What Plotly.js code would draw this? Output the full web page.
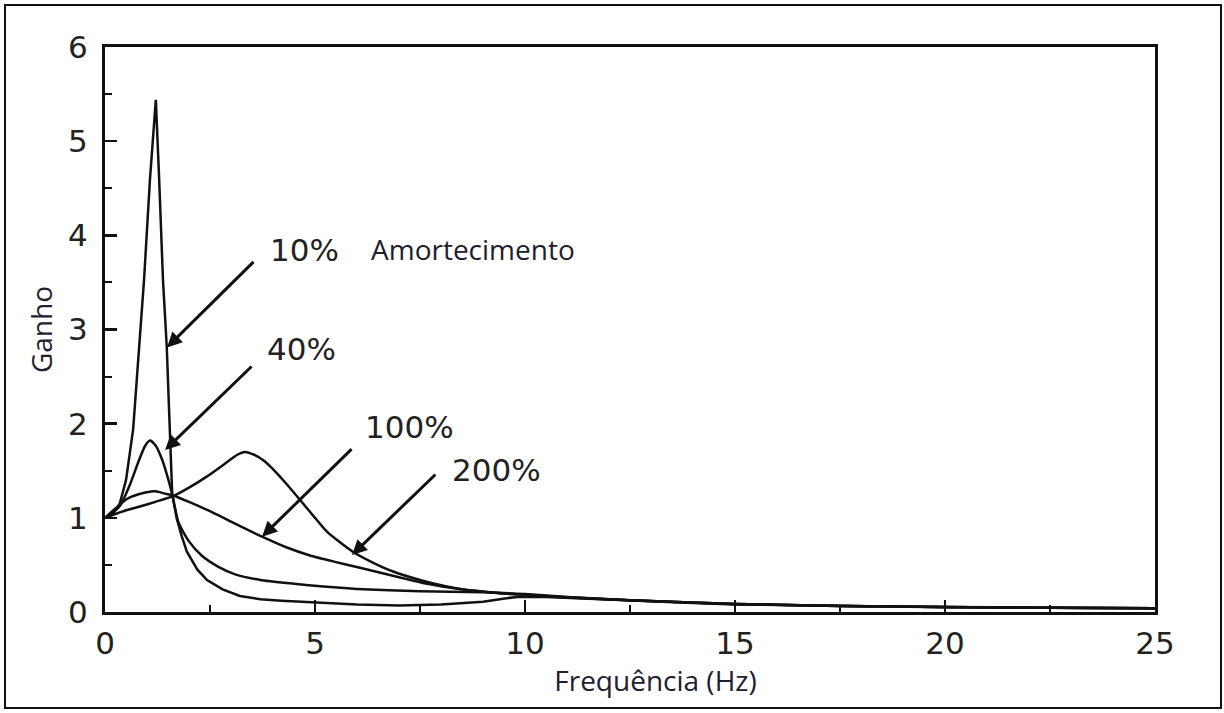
<!DOCTYPE html>
<html>
<head>
<meta charset="utf-8">
<script src="https://cdn.plot.ly/plotly-3.0.1.min.js"></script>
<style>
  html, body { margin: 0; padding: 0; background: #ffffff; }
  #chart { width: 1224px; height: 713px; }
</style>
</head>
<body>
<div id="chart"></div>
<script>
// ---- Data ----
const freq10 = [0, 0.2, 0.35, 0.5, 0.67, 0.8, 0.93, 1.07, 1.21, 1.29, 1.38, 1.47, 1.53, 1.6, 1.71, 1.83, 1.95, 2.2, 2.43, 2.8, 3.21, 3.7, 4.2, 5.0, 6.0, 7.0, 8.0, 9.0, 9.8, 10.5, 11.5, 12.5, 14, 15, 17.5, 20, 22.5, 25];
const gain10 = [1.0, 1.05, 1.15, 1.4, 1.94, 2.75, 3.53, 4.59, 5.44, 4.59, 3.53, 2.82, 2.0, 1.25, 0.99, 0.8, 0.64, 0.45, 0.34, 0.24, 0.17, 0.135, 0.12, 0.1, 0.08, 0.07, 0.08, 0.11, 0.16, 0.16, 0.14, 0.12, 0.095, 0.08, 0.062, 0.05, 0.045, 0.04];

const freq40 = [0, 0.2, 0.36, 0.6, 0.8, 0.95, 1.07, 1.2, 1.35, 1.5, 1.6, 1.75, 2.0, 2.3, 2.7, 3.1, 3.7, 4.5, 5.2, 6.0, 7.5, 9.0, 10, 11, 12.5, 15, 17.5, 20, 22.5, 25];
const gain40 = [1.0, 1.06, 1.13, 1.36, 1.6, 1.76, 1.82, 1.77, 1.63, 1.42, 1.25, 0.95, 0.75, 0.6, 0.48, 0.4, 0.34, 0.3, 0.27, 0.245, 0.22, 0.21, 0.19, 0.16, 0.125, 0.085, 0.065, 0.052, 0.045, 0.04];

const freq100 = [0, 0.25, 0.52, 0.8, 1.1, 1.24, 1.4, 1.6, 2.0, 2.5, 3.0, 3.74, 4.3, 4.88, 5.5, 6.07, 7.0, 7.67, 8.45, 9.3, 10, 11, 12.5, 15, 17.5, 20, 22.5, 25];
const gain100 = [1.0, 1.1, 1.2, 1.25, 1.28, 1.28, 1.26, 1.24, 1.17, 1.07, 0.96, 0.8, 0.69, 0.6, 0.53, 0.47, 0.37, 0.3, 0.245, 0.205, 0.182, 0.155, 0.125, 0.085, 0.065, 0.052, 0.045, 0.04];

const freq200 = [0, 0.5, 0.83, 1.2, 1.62, 2.0, 2.43, 2.9, 3.15, 3.33, 3.55, 3.8, 4.1, 4.4, 4.7, 5.0, 5.29, 5.9, 6.4, 6.86, 7.5, 8.14, 8.45, 9.0, 9.7, 10.5, 11.5, 12.5, 15, 17.5, 20, 22.5, 25];
const gain200 = [1.0, 1.08, 1.12, 1.17, 1.23, 1.32, 1.44, 1.59, 1.67, 1.7, 1.67, 1.6, 1.47, 1.32, 1.16, 1.0, 0.85, 0.64, 0.52, 0.43, 0.34, 0.27, 0.245, 0.215, 0.19, 0.17, 0.145, 0.125, 0.085, 0.065, 0.053, 0.046, 0.04];

const seriesLabels = ["10%", "40%", "100%", "200%"];
const xTickVals = [0, 5, 10, 15, 20, 25];
const yTickVals = [0, 1, 2, 3, 4, 5, 6];

// ---- Styles ----
const ink = '#111111';
const tickFont = { family: 'DejaVu Sans, Liberation Sans, Arial, sans-serif', size: 31, color: '#222222' };
const labelFont = { family: 'DejaVu Sans, Liberation Sans, Arial, sans-serif', size: 31, color: '#222222' };
const textFont = { family: 'Open Sans, Noto Sans, sans-serif', size: 28, color: '#202030' };

function curve(x, y, shape, name) {
  return {
    x: x, y: y, type: 'scatter', mode: 'lines', name: name,
    line: { color: ink, width: 2.5, shape: shape, smoothing: 0.6 },
    showlegend: false, hoverinfo: 'skip'
  };
}

const traces = [
  curve(freq10, gain10, 'linear', seriesLabels[0]),
  curve(freq40, gain40, 'spline', seriesLabels[1]),
  curve(freq100, gain100, 'spline', seriesLabels[2]),
  curve(freq200, gain200, 'spline', seriesLabels[3])
];

function arrow(x, y, ax, ay) {
  return {
    x: x, y: y, xref: 'x', yref: 'y', ax: ax, ay: ay, axref: 'pixel', ayref: 'pixel',
    text: '', showarrow: true, arrowhead: 2, arrowsize: 1, arrowwidth: 3,
    arrowcolor: ink, standoff: 0, startstandoff: 0
  };
}
function label(x, y, text, font) {
  return { x: x, y: y, xref: 'x', yref: 'y', text: text, showarrow: false,
           font: font, xanchor: 'center', yanchor: 'middle' };
}

const annotations = [
  arrow(1.476, 2.81, 88, -87),
  arrow(1.43, 1.72, 88, -85),
  arrow(3.74, 0.80, 91, -89),
  arrow(5.88, 0.605, 85, -82),
  label(4.76, 3.84, seriesLabels[0], labelFont),
  label(4.69, 2.79, seriesLabels[1], labelFont),
  label(7.24, 1.96, seriesLabels[2], labelFont),
  label(9.31, 1.51, seriesLabels[3], labelFont),
  label(8.76, 3.86, 'Amortecimento', textFont)
];

const layout = {
  width: 1224, height: 713,
  margin: { l: 105, r: 69, t: 47, b: 101, pad: 0 },
  paper_bgcolor: '#ffffff', plot_bgcolor: '#ffffff',
  showlegend: false,
  xaxis: {
    range: [0, 25], tickvals: xTickVals, ticks: 'inside', ticklen: 12, tickwidth: 2.5, tickcolor: ink,
    minor: { dtick: 2.5, tick0: 0, ticks: 'inside', ticklen: 7, tickwidth: 2, tickcolor: ink },
    showline: true, linecolor: ink, linewidth: 3, mirror: true,
    showgrid: false, zeroline: false, tickfont: tickFont, ticklabelstandoff: 2,
    title: { text: '\u200B\u00A0\u00A0\u00A0\u00A0\u00A0\u00A0\u00A0Frequência (Hz)', font: textFont, standoff: 6 },
    automargin: false, fixedrange: true
  },
  yaxis: {
    range: [0, 6], tickvals: yTickVals, ticks: 'inside', ticklen: 12, tickwidth: 2.5, tickcolor: ink,
    minor: { dtick: 0.5, tick0: 0, ticks: 'inside', ticklen: 7, tickwidth: 2, tickcolor: ink },
    showline: true, linecolor: ink, linewidth: 3, mirror: true,
    showgrid: false, zeroline: false, tickfont: tickFont, ticklabelstandoff: 8,
    title: { text: 'Ganho', font: textFont, standoff: 8 },
    automargin: false, fixedrange: true
  },
  annotations: annotations,
  shapes: [{
    type: 'rect', xref: 'paper', yref: 'paper',
    x0: -0.09524, x1: 1.06286, y0: -0.1699, y1: 1.0743,
    line: { color: ink, width: 2 }, fillcolor: 'rgba(0,0,0,0)', layer: 'above'
  }]
};

Plotly.newPlot('chart', traces, layout, { staticPlot: true, displayModeBar: false });
</script>
</body>
</html>
